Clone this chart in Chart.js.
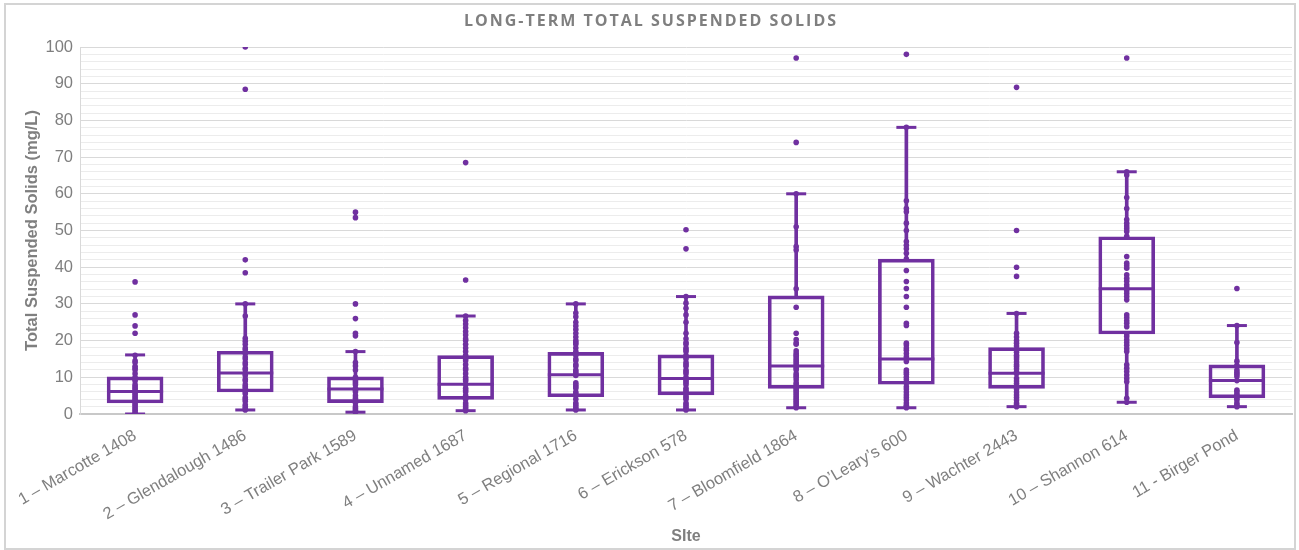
<!DOCTYPE html>
<html>
<head>
<meta charset="utf-8">
<title>Long-Term Total Suspended Solids</title>
<script src="https://cdn.jsdelivr.net/npm/chart.js@4.4.1/dist/chart.umd.min.js"></script>
<style>
  html, body { margin: 0; padding: 0; background: #ffffff; }
  #wrap { position: relative; width: 1299px; height: 550px; }
</style>
</head>
<body>
<div id="wrap"><canvas id="tss" width="1299" height="550"></canvas></div>
<script>
// Sampling sites along the x axis
const siteLabels = [
  '1 \u2013 Marcotte 1408',
  '2 \u2013 Glendalough 1486',
  '3 \u2013 Trailer Park 1589',
  '4 \u2013 Unnamed 1687',
  '5 \u2013 Regional 1716',
  '6 \u2013 Erickson 578',
  '7 \u2013 Bloomfield 1864',
  '8 \u2013 O\u2019Leary\u2019s 600',
  '9 \u2013 Wachter 2443',
  '10 \u2013 Shannon 614',
  '11 - Birger Pond'
];

const chartTitle = 'LONG-TERM TOTAL SUSPENDED SOLIDS';
const yAxisTitle = 'Total Suspended Solids (mg/L)';
const xAxisTitle = 'SIte';

// Box-plot summary per site (mg/L)
const whiskerLow  = [0.0, 1.1, 0.5, 0.9, 1.1, 1.1, 1.7, 1.7, 2.0, 3.2, 2.0];
const quartile1   = [3.0, 6.0, 3.1, 4.0, 4.7, 5.2, 7.0, 8.1, 7.0, 21.8, 4.4];
const medianTSS   = [6.1, 11.2, 6.8, 8.1, 10.7, 9.7, 13.1, 15.0, 11.1, 34.1, 9.1];
const quartile3   = [10.1, 17.1, 10.1, 15.9, 16.8, 16.1, 32.2, 42.2, 18.1, 48.3, 13.4];
const whiskerHigh = [16.1, 30.0, 17.0, 26.7, 30.0, 32.0, 60.0, 78.1, 27.4, 66.0, 24.1];

// Individual TSS samples per site (mg/L)
const samplesMarcotte = [36, 27, 24, 22, 16, 14.5, 14, 13, 12.5, 12, 11, 10, 9.5, 9, 8, 7.5, 7, 6.5, 6, 5.5, 5, 4.5, 4, 3.5, 3, 2.5, 2, 1.5, 1, 0.5, 0];
const samplesGlendalough = [100, 88.5, 42, 38.5, 30, 26.7, 20.6, 19.8, 19, 18, 17.5, 16.5, 15.5, 15, 14, 13.5, 12.5, 12, 11, 10.5, 9.5, 9, 8, 7.5, 7, 6, 5.5, 4.5, 4, 3.5, 2.5, 2, 1.5, 1.1];
const samplesTrailerPark = [55, 53.5, 30, 26, 22, 21.3, 17, 14, 13.1, 12, 10, 9.5, 9, 8.5, 8, 7, 6.5, 6, 5, 4.3, 3.5, 3, 2, 1.5, 1, 0.5];
const samplesUnnamed = [68.5, 36.5, 26.7, 25.5, 24.5, 23.5, 22.5, 21.5, 20.5, 20, 19, 18, 17, 16, 15, 14.5, 13.5, 12.5, 12, 11, 10, 9.5, 9, 8, 7, 6.5, 6, 5, 4.5, 4, 3, 2.5, 2, 1.5, 0.9];
const samplesRegional = [30, 27.5, 26.5, 25, 24, 23, 22, 21, 20, 19.5, 19, 18, 17, 16.5, 16, 15, 14.5, 13.5, 13, 12, 11.5, 11, 10.5, 8.5, 8, 7.5, 7, 6, 5.5, 5, 4, 3, 2.5, 2, 1.5, 1.1];
const samplesErickson = [50.2, 45, 32, 30.2, 28.8, 27, 25, 22, 20.5, 19.5, 19, 18, 17.5, 17, 16, 15.5, 15, 14, 13.5, 13, 12, 11.5, 11, 10, 9.5, 9, 8.5, 8, 7, 6.5, 6, 5, 4.5, 4, 3, 2.5, 2, 1.5, 1.1];
const samplesBloomfield = [97, 74, 60, 51, 45.6, 44.7, 34.1, 29.1, 22, 20.3, 19.4, 19, 17.2, 16.5, 16, 15.5, 15, 14.5, 14, 13.5, 13, 12.5, 12, 11, 10.5, 10, 9.3, 8.5, 8, 7.5, 7, 6.5, 6, 5.5, 5, 4.5, 4, 3.5, 3, 2.5, 2, 1.7];
const samplesOLearys = [98, 78.1, 58.1, 56, 55.1, 52, 50, 47, 46, 45, 43.8, 42.2, 39.1, 36.1, 34.2, 32, 29.1, 24.7, 24.1, 19.3, 18.8, 18, 17.4, 16.5, 15.6, 15, 14.3, 12, 11.4, 10.8, 10, 9.3, 8.4, 7.4, 6.8, 6, 5.2, 4.5, 3.8, 3, 2.4, 2, 1.7];
const samplesWachter = [89, 50, 40, 37.5, 27.4, 22, 21, 20, 19.3, 18.5, 17.5, 16.8, 16, 15.5, 15, 14.2, 13.5, 13, 12.3, 11.5, 11, 9.7, 9, 8.3, 7.5, 6.8, 6, 5.2, 4.5, 3.8, 3, 2.5, 2];
const samplesShannon = [97, 66, 65.1, 59, 56, 53, 52, 51.2, 50.5, 49.7, 48.4, 42.9, 41.1, 40.4, 39.7, 37.9, 37, 36.2, 35.2, 34.5, 33.6, 32.8, 32, 31.1, 27, 26.2, 25.4, 24.7, 23.8, 21.8, 21.1, 20.2, 19.5, 18.7, 17.8, 17, 13.4, 12.5, 11.6, 10.6, 9.7, 8.8, 4.3, 3.2];
const samplesBirger = [34.2, 24.1, 19.5, 14.4, 13.3, 12, 11.4, 10.8, 10.2, 9.1, 6.5, 6, 5.4, 4.8, 4.2, 3.8, 3, 2.5, 2];

const samplesBySite = [
  samplesMarcotte, samplesGlendalough, samplesTrailerPark, samplesUnnamed,
  samplesRegional, samplesErickson, samplesBloomfield, samplesOLearys,
  samplesWachter, samplesShannon, samplesBirger
];

// Y axis: labelled every 10, minor grid every 2
const yMin = 0, yMax = 100, yMinorStep = 2, yMajorStep = 10;

const PURPLE = '#7030A0';
const GREY_TEXT = '#7f7f7f';

const samplePoints = [];
samplesBySite.forEach((vals, i) => vals.forEach(v => samplePoints.push({ x: siteLabels[i], y: v })));

const toPoints = arr => arr.map((v, i) => ({ x: siteLabels[i], y: v }));

// Outer frame, white backdrop, letter-spaced heading and the y-axis caption
const framePlugin = {
  id: 'frame',
  beforeDraw(chart) {
    const ctx = chart.ctx;
    ctx.save();
    ctx.fillStyle = '#ffffff';
    ctx.fillRect(0, 0, chart.width, chart.height);
    ctx.strokeStyle = '#d4d4d4';
    ctx.lineWidth = 2;
    ctx.strokeRect(5, 4, 1290, 545);
    ctx.restore();
  },
  afterDraw(chart) {
    const ctx = chart.ctx;
    const area = chart.chartArea;
    ctx.save();
    ctx.font = 'bold 16px "Open Sans", sans-serif';
    if ('letterSpacing' in ctx) ctx.letterSpacing = '2px';
    ctx.fillStyle = GREY_TEXT;
    ctx.textAlign = 'center';
    ctx.textBaseline = 'middle';
    ctx.fillText(chartTitle, (area.left + area.right) / 2 - 35, 21);
    ctx.restore();

    ctx.save();
    ctx.font = 'bold 16.5px "Liberation Sans", Arial, sans-serif';
    ctx.fillStyle = GREY_TEXT;
    ctx.textAlign = 'center';
    ctx.textBaseline = 'middle';
    ctx.translate(32, (area.top + area.bottom) / 2);
    ctx.rotate(-Math.PI / 2);
    ctx.fillText(yAxisTitle, 0, 0);
    ctx.restore();
  }
};

new Chart(document.getElementById('tss'), {
  type: 'bar',
  data: {
    labels: siteLabels,
    datasets: [
      {
        label: 'Samples',
        type: 'line',
        data: samplePoints,
        showLine: false,
        pointRadius: 2.8,
        pointBackgroundColor: PURPLE,
        pointBorderWidth: 0,
        order: 0
      },
      {
        label: 'Median',
        type: 'line',
        data: toPoints(medianTSS),
        showLine: false,
        pointStyle: 'line',
        pointRadius: 28,
        pointBorderColor: PURPLE,
        pointBorderWidth: 3,
        order: 1
      },
      {
        label: 'Upper cap',
        type: 'line',
        data: toPoints(whiskerHigh),
        showLine: false,
        pointStyle: 'line',
        pointRadius: 10,
        pointBorderColor: PURPLE,
        pointBorderWidth: 3,
        order: 1
      },
      {
        label: 'Lower cap',
        type: 'line',
        data: toPoints(whiskerLow),
        showLine: false,
        pointStyle: 'line',
        pointRadius: 10,
        pointBorderColor: PURPLE,
        pointBorderWidth: 3,
        order: 1
      },
      {
        label: 'Interquartile range',
        data: quartile1.map((q, i) => [q, quartile3[i]]),
        backgroundColor: 'rgba(255,255,255,0)',
        borderColor: PURPLE,
        borderWidth: 3,
        borderSkipped: false,
        barThickness: 56,
        grouped: false,
        order: 2
      },
      {
        label: 'Upper whisker',
        data: quartile3.map((q, i) => [q, whiskerHigh[i]]),
        backgroundColor: PURPLE,
        borderWidth: 0,
        barThickness: 3,
        grouped: false,
        order: 3
      },
      {
        label: 'Lower whisker',
        data: whiskerLow.map((w, i) => [w, quartile1[i]]),
        backgroundColor: PURPLE,
        borderWidth: 0,
        barThickness: 3,
        grouped: false,
        order: 3
      }
    ]
  },
  options: {
    responsive: false,
    animation: false,
    events: [],
    layout: { autoPadding: false, padding: { left: 0, right: 7, top: 47, bottom: 0 } },
    plugins: {
      legend: { display: false },
      tooltip: { enabled: false },
      title: { display: false }
    },
    scales: {
      x: {
        grid: { display: false },
        border: { display: true, color: '#c8c8c8', width: 2 },
        ticks: {
          color: GREY_TEXT,
          font: { family: '"Liberation Sans", Arial, sans-serif', size: 16.5 },
          minRotation: 30,
          maxRotation: 30,
          autoSkip: false,
          padding: 4
        },
        title: {
          display: true,
          text: xAxisTitle,
          color: GREY_TEXT,
          font: { family: '"Liberation Sans", Arial, sans-serif', size: 16, weight: 'bold' },
          padding: { top: 0, bottom: 4 }
        },
        afterFit(scale) {
          scale.height = 136;
          scale.paddingLeft = 0;
          scale.paddingRight = 0;
        }
      },
      y: {
        min: yMin,
        max: yMax,
        grid: {
          drawTicks: false,
          color: ctx => (ctx.tick && ctx.tick.value % yMajorStep === 0) ? '#d9d9d9' : '#ececec',
          lineWidth: 1
        },
        border: { display: true, color: '#d9d9d9', width: 1 },
        ticks: {
          stepSize: yMinorStep,
          autoSkip: false,
          color: GREY_TEXT,
          padding: 7,
          font: { family: '"Liberation Sans", Arial, sans-serif', size: 16.5 },
          callback: v => (v % yMajorStep === 0 ? String(v) : '')
        },
        title: { display: false },
        afterFit(scale) {
          scale.width = 80;
          scale.paddingTop = 0;
        }
      }
    }
  },
  plugins: [framePlugin]
});
</script>
</body>
</html>
